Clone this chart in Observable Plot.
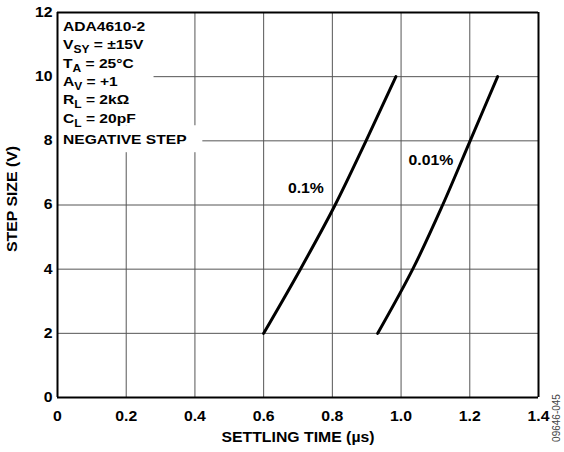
<!DOCTYPE html>
<html>
<head>
<meta charset="utf-8">
<script src="https://cdn.jsdelivr.net/npm/d3@7"></script>
<script src="https://cdn.jsdelivr.net/npm/@observablehq/plot@0.6"></script>
<style>
  body { margin: 0; background: #fff; }
  #chart svg { display: block; }
</style>
</head>
<body>
<div id="chart"></div>
<script>
// Series values
const time01 = [0.60, 0.707, 0.808, 0.898, 0.985];
const step01 = [2, 4, 6, 8, 10];
const time001 = [0.932, 1.034, 1.121, 1.201, 1.281];
const step001 = [2, 4, 6, 8, 10];

// Axis ticks
const xTicks = [0, 0.2, 0.4, 0.6, 0.8, 1.0, 1.2, 1.4];
const yTicks = [0, 2, 4, 6, 8, 10, 12];

// Curve labels
const curveLabels = ["0.1%", "0.01%"];
const curveLabelX = [0.723, 1.087];
const curveLabelY = [6.51, 7.38];

// Condition note (text, subscript, rest)
const noteLines = [
  ["ADA4610-2", "", ""],
  ["V", "SY", " = ±15V"],
  ["T", "A", " = 25°C"],
  ["A", "V", " = +1"],
  ["R", "L", " = 2kΩ"],
  ["C", "L", " = 20pF"],
  ["NEGATIVE STEP", "", ""]
];
// White background boxes behind the note (data units)
const noteBoxX1 = [0, 0];
const noteBoxX2 = [0.281, 0.423];
const noteBoxY1 = [8.47, 7.63];
const noteBoxY2 = [12, 8.47];

const xTitle = "SETTLING TIME (µs)";
const yTitle = "STEP SIZE (V)";
const figureId = "09646-045";

const font = "'Liberation Sans', Arial, Helvetica, sans-serif";

const data = [
  ...time01.map((t, i) => ({t, v: step01[i], s: "0.1%"})),
  ...time001.map((t, i) => ({t, v: step001[i], s: "0.01%"}))
];
const boxes = noteBoxX1.map((x1, i) => ({x1, x2: noteBoxX2[i], y1: noteBoxY1[i], y2: noteBoxY2[i]}));
const labels = curveLabels.map((l, i) => ({l, x: curveLabelX[i], y: curveLabelY[i]}));
const xEdges = [xTicks[0], xTicks[xTicks.length - 1]];
const yEdges = [yTicks[0], yTicks[yTicks.length - 1]];

const plot = Plot.plot({
  width: 564,
  height: 452,
  marginLeft: 57,
  marginRight: 26,
  marginTop: 12,
  marginBottom: 55,
  style: {fontFamily: font, fontWeight: "bold", fontSize: "14px", color: "#000", background: "#fff"},
  x: {domain: xEdges},
  y: {domain: yEdges},
  marks: [
    Plot.gridX(xTicks, {stroke: "#555", strokeOpacity: 1, strokeWidth: 1}),
    Plot.gridY(yTicks, {stroke: "#555", strokeOpacity: 1, strokeWidth: 1}),
    Plot.rect(boxes, {x1: "x1", x2: "x2", y1: "y1", y2: "y2", fill: "#fff"}),
    Plot.line(data, {x: "t", y: "v", z: "s", stroke: "#000", strokeWidth: 3, curve: "monotone-y"}),
    Plot.text(labels, {x: "x", y: "y", text: "l", fontSize: 14, fontWeight: "bold", fill: "#000"}),
    Plot.ruleX(xEdges, {stroke: "#000", strokeWidth: 2}),
    Plot.ruleY(yEdges, {stroke: "#000", strokeWidth: 2}),
    Plot.axisX(xTicks, {
      tickSize: 0, tickPadding: 14,
      tickFormat: d => d === 0 ? "0" : d.toFixed(1),
      label: xTitle, labelAnchor: "center", labelArrow: "none", labelOffset: 44
    }),
    Plot.axisY(yTicks, {
      tickSize: 0, tickPadding: 5,
      label: yTitle, labelAnchor: "center", labelArrow: "none", labelOffset: 50
    })
  ]
});

document.getElementById("chart").appendChild(plot);

const svg = d3.select(plot);

// Widen text horizontally (along its own direction), around its anchor
function stretch(sel, k) {
  sel.each(function () {
    const el = d3.select(this);
    const x0 = +(el.attr("x") || 0);
    const tr = el.attr("transform") || "";
    el.attr("transform", `${tr} translate(${x0},0) scale(${k},1) translate(${-x0},0)`);
  });
}
stretch(svg.selectAll("text"), 1.13);

// Nudge the y title up slightly
svg.selectAll("text").filter(function () { return this.textContent === yTitle; })
  .each(function () {
    const el = d3.select(this);
    el.attr("transform", `translate(0,-6) ${el.attr("transform") || ""}`);
  });

// Condition note with subscripts, positioned via the plot scales
const sx = plot.scale("x"), sy = plot.scale("y");
const noteLeft = sx.apply(0) + 6;
const noteTop = sy.apply(12);
const g = svg.append("g")
  .attr("font-family", font)
  .attr("font-weight", "bold")
  .attr("font-size", 13)
  .attr("text-anchor", "start")
  .attr("fill", "#000");
const baselines = [31, 49.5, 68, 86, 104.5, 123, 144.5];
noteLines.forEach((ln, i) => {
  const t = g.append("text").attr("x", noteLeft).attr("y", noteTop + baselines[i] - 12);
  t.append("tspan").text(ln[0]);
  if (ln[1]) {
    t.append("tspan").attr("font-size", 10).attr("dy", 4).text(ln[1]);
    t.append("tspan").attr("dy", -4).text(ln[2]);
  }
});
stretch(g.selectAll("text"), 1.2);

// Figure ID, rotated at lower right
svg.append("text")
  .attr("transform", `translate(${sx.apply(1.4) + 22},${sy.apply(0) + 21}) rotate(-90)`)
  .attr("text-anchor", "middle")
  .attr("font-family", font)
  .attr("font-weight", "normal")
  .attr("font-size", 10)
  .attr("fill", "#444")
  .text(figureId);
</script>
</body>
</html>
